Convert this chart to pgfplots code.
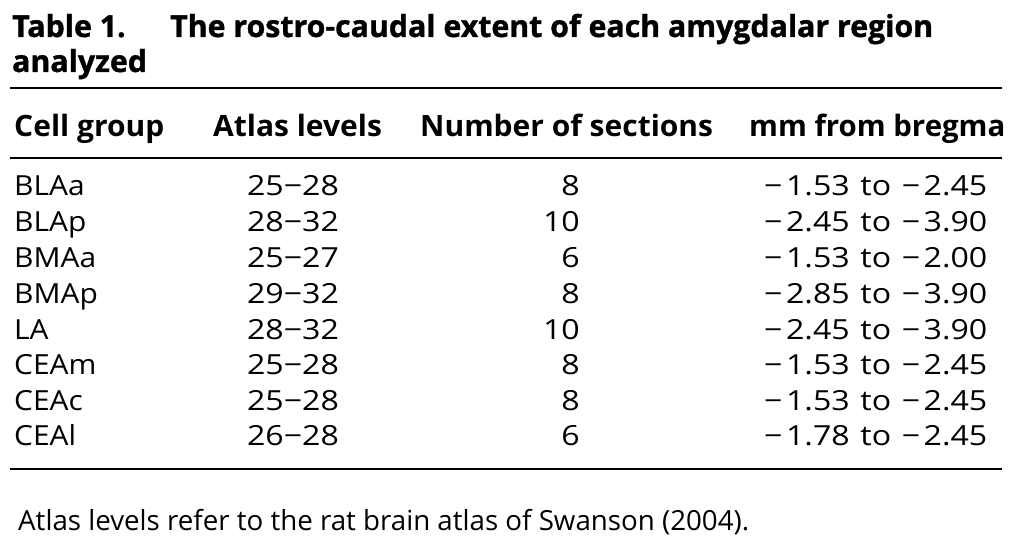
\documentclass[border=0pt]{standalone}
\usepackage{pgfplots}
\usepackage{pgfplotstable}
\pgfplotsset{compat=1.18}
\usepackage{fontspec}
\setmainfont{Open Sans}
\newfontfamily\heavyfont{Open Sans}[BoldFeatures={FakeBold=1.2}]
\newcommand\rng[2]{−\hspace{3bp}#1\hspace{2bp} to \hspace{2bp}−\hspace{3bp}#2}
\pgfplotstableread[col sep=comma]{
y,cell,atlas,n,mm
195,BLAa,25−28,8,\rng{1.53}{2.45}
231,BLAp,28−32,10,\rng{2.45}{3.90}
267,BMAa,25−27,6,\rng{1.53}{2.00}
303,BMAp,29−32,8,\rng{2.85}{3.90}
339,LA,28−32,10,\rng{2.45}{3.90}
374,CEAm,25−28,8,\rng{1.53}{2.45}
410,CEAc,25−28,8,\rng{1.53}{2.45}
445,CEAl,26−28,6,\rng{1.78}{2.45}
}\tabledata
\newcommand\bodyfont{\fontsize{27.8}{32}\selectfont}
\newcommand\headfont{\fontsize{29.5}{34}\selectfont\bfseries}
\newcommand\titlefont{\heavyfont\fontsize{30.4}{36}\selectfont\bfseries}
\begin{document}
\begin{tikzpicture}
\begin{axis}[
  width=1030bp, height=546bp, scale only axis,
  xmin=0, xmax=1030, ymin=0, ymax=546, y dir=reverse,
  axis lines=none, clip=false,
  every node near coord/.append style={inner sep=0pt, font=\bodyfont, text=black},
]
\path (axis cs:0,0) rectangle (axis cs:1030,546);
% rules
\addplot[black, line width=2.6bp] coordinates {(10,88) (1002,88)};
\addplot[black, line width=2bp] coordinates {(10,158) (1002,158)};
\addplot[black, line width=2.6bp] coordinates {(10,469) (1002,469)};
% columns
\addplot[draw=none, mark=none, nodes near coords, point meta=explicit symbolic,
  every node near coord/.append style={anchor=base west, xscale=1.08}]
  table[x expr=14, y=y, meta=cell] {\tabledata};
\addplot[draw=none, mark=none, nodes near coords, point meta=explicit symbolic,
  every node near coord/.append style={anchor=base, xscale=1.16}]
  table[x expr=293, y=y, meta=atlas] {\tabledata};
\addplot[draw=none, mark=none, nodes near coords, point meta=explicit symbolic,
  every node near coord/.append style={anchor=base east, xscale=1.16}]
  table[x expr=580, y=y, meta=n] {\tabledata};
\addplot[draw=none, mark=none, nodes near coords, point meta=explicit symbolic,
  every node near coord/.append style={anchor=base west, xscale=1.16}]
  table[x expr=764, y=y, meta=mm] {\tabledata};
% title
\node[anchor=base west, inner sep=0pt, font=\titlefont] at (axis cs:12,37) {Table 1.};
\node[anchor=base west, inner sep=0pt, font=\titlefont] at (axis cs:170,37) {The rostro-caudal extent of each amygdalar region};
\node[anchor=base west, inner sep=0pt, font=\titlefont] at (axis cs:12,72) {analyzed};
% header
\node[anchor=base west, inner sep=0pt, font=\headfont, xscale=1.02] at (axis cs:14,136) {Cell group};
\node[anchor=base west, inner sep=0pt, font=\headfont, xscale=1.02] at (axis cs:213,136) {Atlas levels};
\node[anchor=base west, inner sep=0pt, font=\headfont, xscale=1.02] at (axis cs:420,136) {Number of sections};
\node[anchor=base west, inner sep=0pt, font=\headfont] at (axis cs:749,136) {mm from bregma};
% footnote
\node[anchor=base west, inner sep=0pt, font=\bodyfont] at (axis cs:18,530) {Atlas levels refer to the rat brain atlas of Swanson (2004).};
\end{axis}
\end{tikzpicture}
\end{document}
